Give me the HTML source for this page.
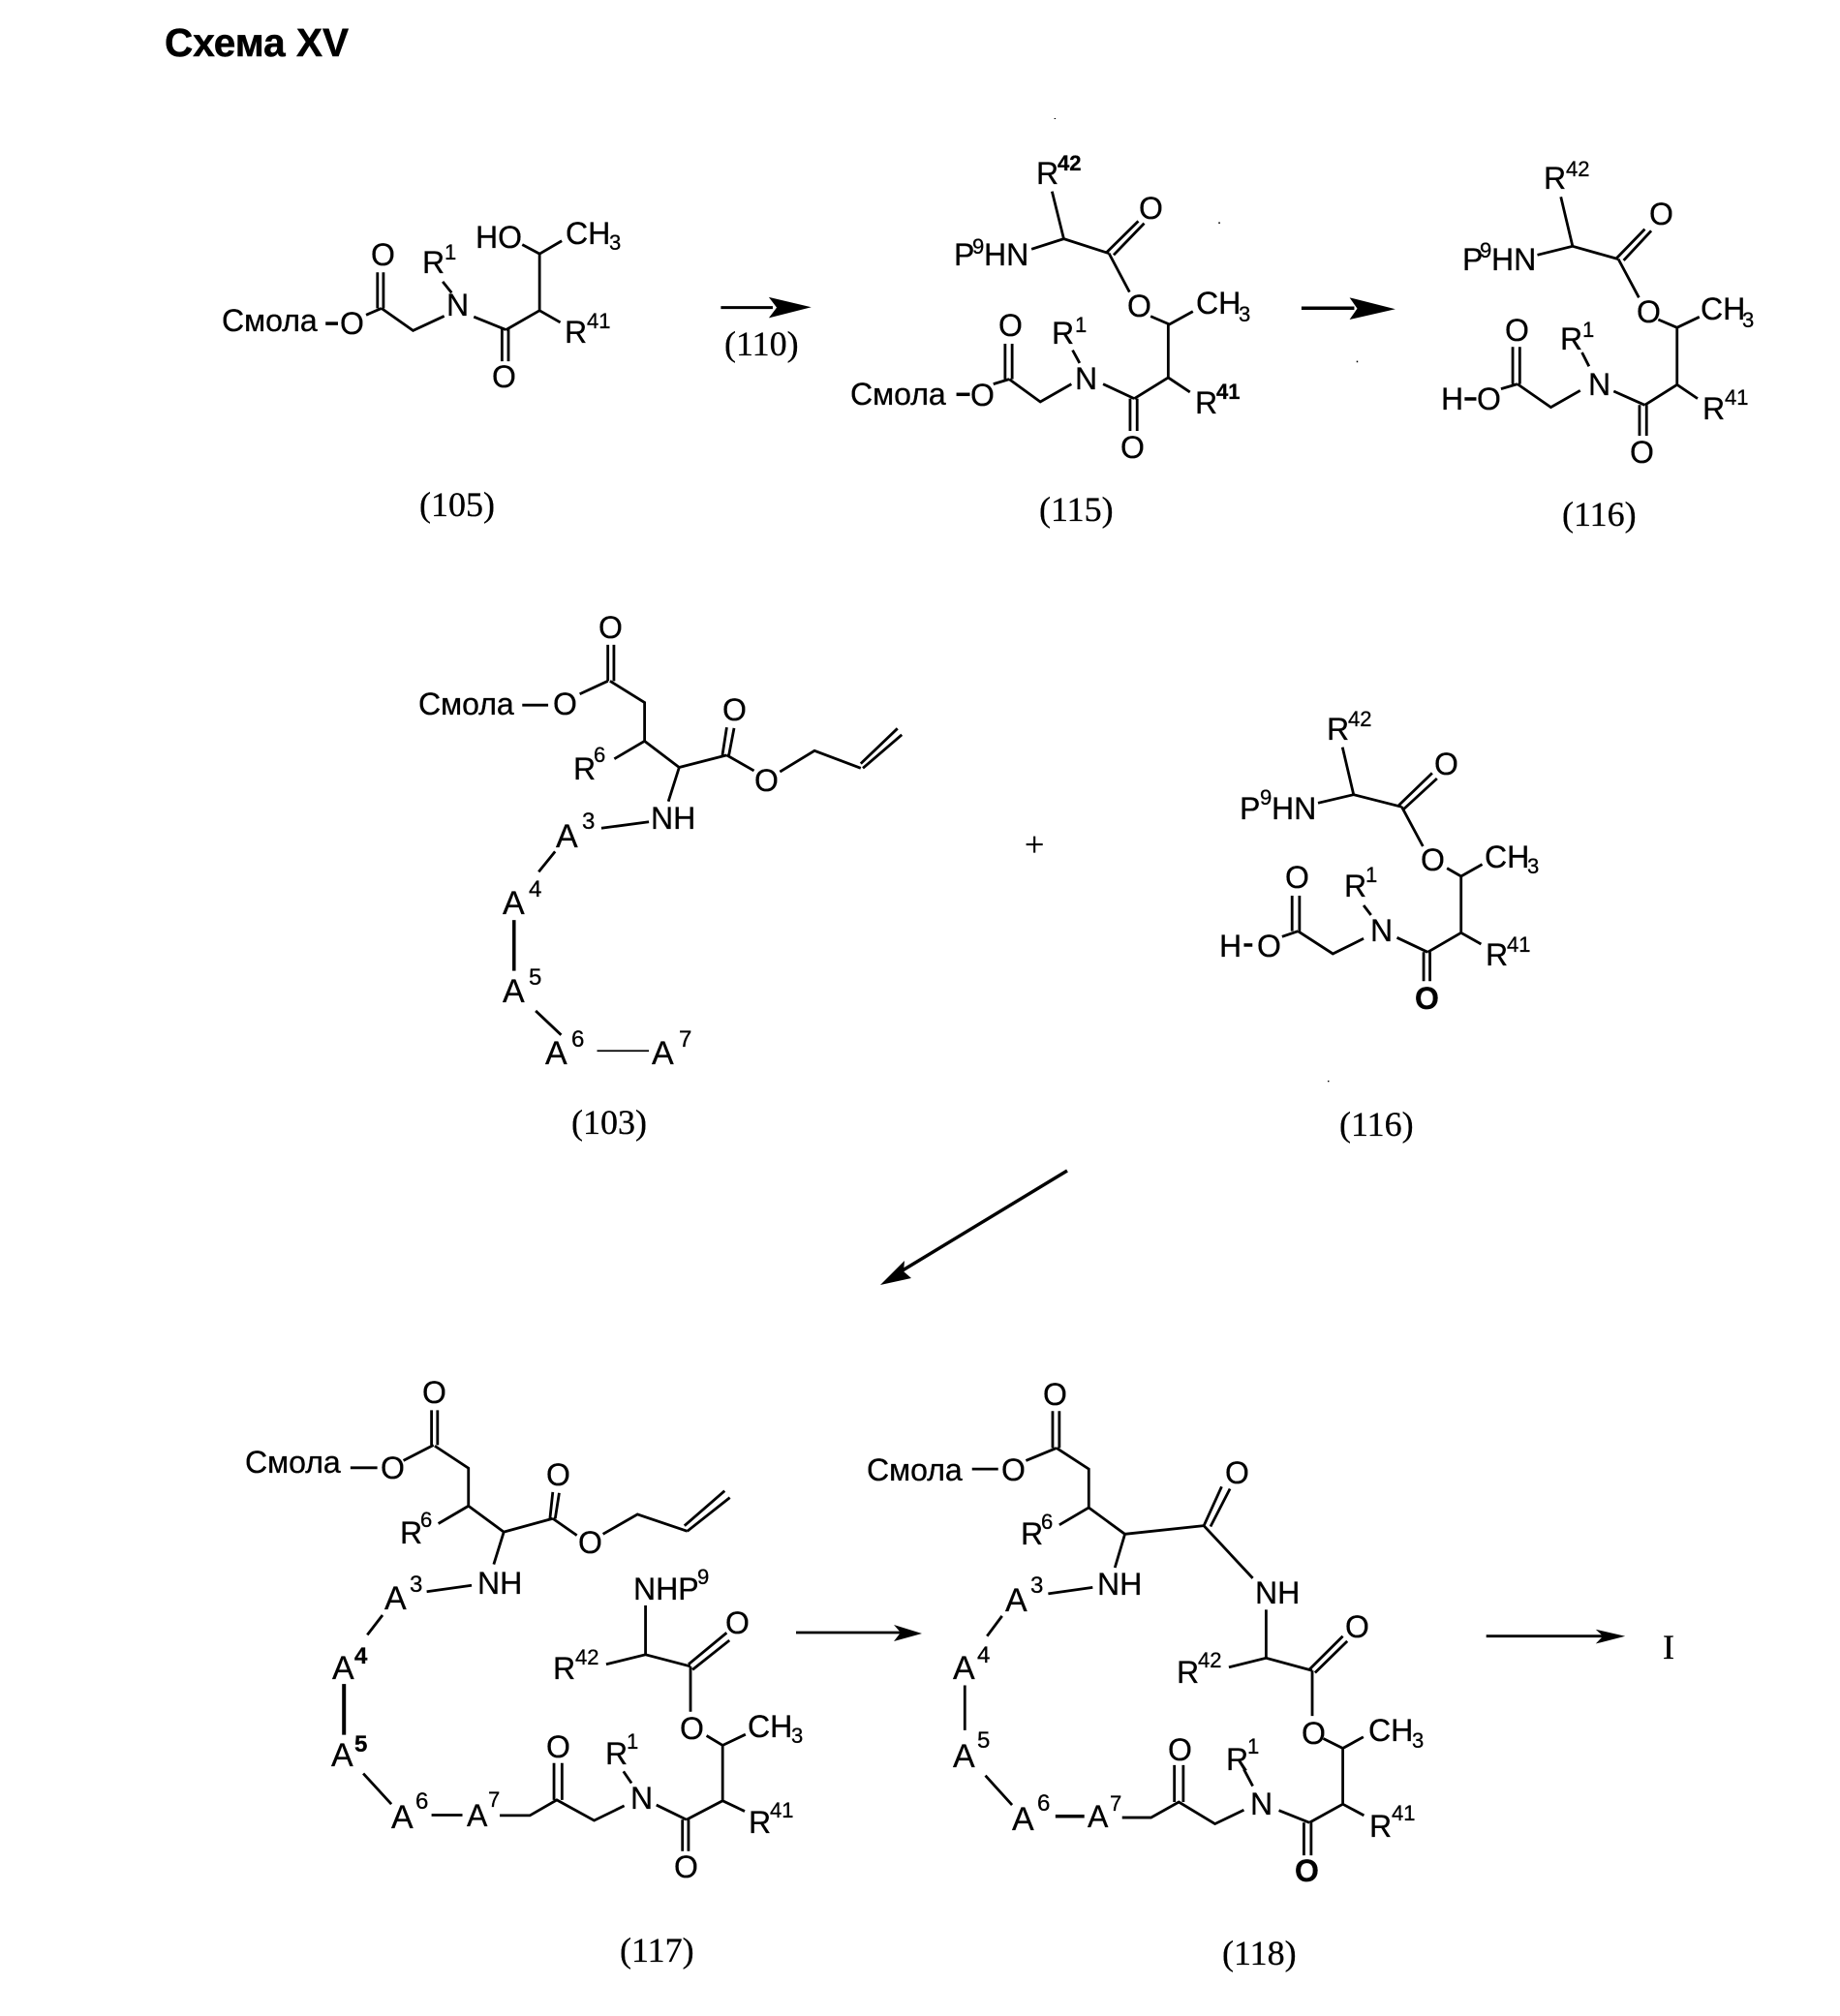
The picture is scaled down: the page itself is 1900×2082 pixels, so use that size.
<!DOCTYPE html>
<html lang="ru"><head><meta charset="utf-8"><title>Схема XV</title>
<style>
html,body{margin:0;padding:0;background:#fff}
svg{display:block}
text{font-family:"Liberation Sans",sans-serif;font-size:32px;fill:#000;stroke:#000;stroke-width:.3}
.s{font-size:22px}
.q{font-size:24px}
.a{font-size:34px}
.b{font-weight:bold}
.l{font-family:"Liberation Serif",serif;font-size:36px}
.t{font-weight:bold;font-size:40.5px;stroke-width:.5}
path{fill:none;stroke:#000;stroke-width:2.8;vector-effect:non-scaling-stroke}
path.h{fill:#000;stroke:none}
</style></head><body>
<svg xmlns="http://www.w3.org/2000/svg" width="1900" height="2082" viewBox="0 0 1900 2082">
<rect width="1900" height="2082" fill="#fff"/>
<text class="t" x="170" y="58">Схема XV</text>

<!-- 105 -->
<g transform="translate(150 0) scale(.5102 .3827)">
<path style="stroke-width:3.5" d="M365 873H390"/>
<path d="M447 850L478 832M470 832V735M482 832V735M478 832L542 892L605 853M602 760L620 790M665 855L730 890M722 885V975M735 885V975M730 890L798 838L840 870M798 838V685M763 660L798 685L843 650"/>
<path style="stroke-width:3" d="M1165 830H1270"/>
<path class="h" d="M1262 802L1348 829L1262 858L1278 830Z"/>
</g>
<text x="229" y="342">Смола</text><text x="351" y="345">O</text><text x="383" y="274">O</text>
<text x="436" y="282">R</text><text class="s" x="459" y="268">1</text>
<text x="461" y="326">N</text><text x="491" y="256">HO</text>
<text x="584" y="252">CH</text><text class="s" x="629" y="258">3</text>
<text x="583" y="354">R</text><text class="s" x="606" y="339">41</text>
<text x="508" y="400">O</text>
<text class="l" x="433" y="533">(105)</text><text class="l" x="748" y="367">(110)</text>

<!-- 115 / 116 -->
<g transform="translate(950 100) scale(.606 .3333)">
<path d="M225 293L245 440M190 472L245 440L322 485M318 482L372 385M330 490L382 392M322 485L357 605M393 680L425 705L465 665M423 705V870L460 915M423 870L365 935M358 935V1035M370 935V1035M312 890L365 935M258 890L205 945L152 875M145 875V765M157 875V765M125 890L152 875M260 785L272 825"/>
<path style="stroke-width:3.5" d="M62 922H85"/>
<path style="stroke-width:3.5" d="M650 655H740"/>
<path class="h" d="M732 622L810 658L732 690L745 656Z"/>
<path d="M1092 310L1112 463M1052 490L1112 463L1190 503M1187 500L1235 410M1199 507L1246 415M1190 503L1225 622M1258 690L1290 715L1328 682M1290 715V892L1325 935M1290 892L1235 955M1182 912L1235 955M1226 955V1050M1238 955V1050M1125 910L1075 962L1018 890M1010 890V775M1022 890V775M990 905L1018 890M1128 792L1140 835"/>
<path style="stroke-width:3.5" d="M928 936H948"/>
<path style="stroke-width:1.5" d="M230 66V69M510 388V393M745 818V823"/>
</g>
<text x="1070" y="190">R</text><text class="s b" x="1092" y="176">42</text>
<text x="1176" y="226">O</text><text x="985" y="274">P</text><text class="s" x="1004" y="262">9</text><text x="1016" y="274">HN</text>
<text x="1164" y="327">O</text><text x="1235" y="324">CH</text><text class="s" x="1279" y="332">3</text>
<text x="1031" y="347">O</text><text x="1086" y="355">R</text><text class="s" x="1110" y="343">1</text>
<text x="1110" y="402">N</text><text x="1234" y="427">R</text><text class="s b" x="1256" y="412">41</text>
<text x="1157" y="473">O</text><text x="1002" y="419">O</text><text x="878" y="418">Смола</text>
<text class="l" x="1073" y="538">(115)</text>

<text x="1594" y="195">R</text><text class="s" x="1617" y="182">42</text>
<text x="1703" y="232">O</text><text x="1510" y="279">P</text><text class="s" x="1528" y="266">9</text><text x="1540" y="279">HN</text>
<text x="1690" y="333">O</text><text x="1756" y="330">CH</text><text class="s" x="1799" y="338">3</text>
<text x="1554" y="352">O</text><text x="1611" y="361">R</text><text class="s" x="1634" y="348">1</text>
<text x="1640" y="408">N</text><text x="1758" y="433">R</text><text class="s" x="1781" y="418">41</text>
<text x="1683" y="478">O</text><text x="1488" y="423">H</text><text x="1525" y="423">O</text>
<text class="l" x="1613" y="543">(116)</text>

<!-- 103 -->
<g transform="translate(400 600) scale(.4464 .3827)">
<path d="M312 335H372M445 305L510 270M510 270V172M524 270V172M515 270L595 328V432L525 480M595 432L675 503L650 595M675 503L785 470M775 470L785 395M790 470L802 397M785 470L848 512M908 515L988 458L1095 505M1095 493L1180 398M1100 505L1190 415M495 667L605 650M388 730L350 785M343 1160L402 1225"/>
<path style="stroke-width:3.5" d="M293 915V1052"/>
<path style="stroke-width:1.8" d="M485 1268H605"/>
</g>
<text x="432" y="738">Смола</text><text x="571" y="738">O</text><text x="618" y="659">O</text>
<text x="592" y="805">R</text><text class="s" x="613" y="787">6</text>
<text x="746" y="744">O</text><text x="779" y="817">O</text><text x="672" y="856">NH</text>
<text class="a" x="574" y="875">A</text><text class="q" x="601" y="856">3</text>
<text class="a" x="519" y="944">A</text><text class="q" x="546" y="926">4</text>
<text class="a" x="519" y="1035">A</text><text class="q" x="546" y="1017">5</text>
<text class="a" x="563" y="1099">A</text><text class="q" x="590" y="1081">6</text>
<text class="a" x="673" y="1099">A</text><text class="q" x="701" y="1081">7</text>
<text class="l" x="590" y="1171">(103)</text>
<text class="l" x="1058" y="884">+</text>

<!-- 116 second -->
<g transform="translate(1100 700) scale(.3827 .3333)">
<path d="M748 215L778 362M682 388L778 362L908 400M900 395L990 295M912 408L1003 312M908 400L965 522M1030 590L1068 615L1125 578M1068 615V790L1122 825M1068 790L978 850M895 805L978 850M967 850V940M984 850V940M805 808L722 855L628 785M612 785V675M632 785V675M585 802L628 785M805 705L825 735"/>
<path style="stroke-width:3.5" d="M482 828H505"/>
<path style="stroke-width:1.5" d="M710 1248V1252"/>
</g>
<text x="1370" y="764">R</text><text class="s" x="1392" y="750">42</text>
<text x="1481" y="800">O</text><text x="1280" y="846">P</text><text class="s" x="1301" y="831">9</text><text x="1313" y="846">HN</text>
<text x="1467" y="899">O</text><text x="1533" y="896">CH</text><text class="s" x="1577" y="902">3</text>
<text x="1327" y="917">O</text><text x="1388" y="926">R</text><text class="s" x="1410" y="911">1</text>
<text x="1415" y="972">N</text><text x="1534" y="997">R</text><text class="s" x="1556" y="983">41</text>
<text class="b" x="1461" y="1042">O</text><text x="1259" y="988">H</text><text x="1298" y="988">O</text>
<text class="l" x="1383" y="1173">(116)</text>

<!-- diagonal arrow -->
<path style="stroke-width:3.4" d="M1102 1209L932 1312"/>
<path class="h" d="M909 1327L934 1302L933 1313L941 1320Z"/>

<!-- 117 -->
<g transform="translate(230 1400) scale(.4146 .4337)">
<path d="M318 267H385M450 250L525 213M520 213V130M535 213V130M528 215L612 268V358L537 400M612 358L700 420L675 497M700 420L822 388M815 388L822 325M828 388L838 327M822 388L882 428M947 425L1033 378L1157 418M1150 405L1250 322M1157 418L1263 338M508 562L620 547M398 618L360 665M350 995L420 1068M520 1094H597M690 1095H765L832 1058L925 1107L1000 1072M825 1058V970M845 1058V970M998 990L1018 1018M1080 1070L1155 1105M1145 1105V1180M1160 1105V1180M1155 1105L1245 1060L1300 1085M1245 1060V925M1205 905L1245 928L1302 902M1053 595V712M955 735L1053 712L1165 740M1160 735L1255 660M1170 748L1262 678M1165 740V848"/>
<path style="stroke-width:4" d="M302 782V903"/>
</g>
<text x="253" y="1521">Смола</text><text x="393" y="1527">O</text><text x="436" y="1449">O</text>
<text x="413" y="1594">R</text><text class="s" x="434" y="1577">6</text>
<text x="564" y="1534">O</text><text x="597" y="1604">O</text><text x="493" y="1646">NH</text>
<text class="a" x="397" y="1662">A</text><text class="q" x="423" y="1644">3</text>
<text class="a" x="343" y="1734">A</text><text class="q b" x="366" y="1718">4</text>
<text class="a" x="342" y="1824">A</text><text class="q b" x="366" y="1809">5</text>
<text class="a" x="404" y="1888">A</text><text class="q" x="429" y="1868">6</text>
<text x="482" y="1886">A</text><text class="s" x="504" y="1866">7</text>
<text x="564" y="1815">O</text><text x="625" y="1822">R</text><text class="s" x="647" y="1806">1</text>
<text x="651" y="1868">N</text><text x="773" y="1893">R</text><text class="s" x="795" y="1877">41</text>
<text x="696" y="1939">O</text><text x="702" y="1796">O</text>
<text x="772" y="1794">CH</text><text class="s" x="817" y="1800">3</text>
<text x="654" y="1652">NHP</text><text class="s" x="720" y="1636">9</text>
<text x="749" y="1687">O</text><text x="571" y="1734">R</text><text class="s" x="594" y="1719">42</text>
<text class="l" x="640" y="2026">(117)</text>

<path style="stroke-width:2.8" d="M822 1686H930"/>
<path class="h" d="M923 1678L952 1687L923 1695L930 1686Z"/>

<!-- 118 -->
<g transform="translate(870 1400) scale(.574 .4337)">
<path d="M233 270H280M330 250L385 220M378 220V132M390 220V132M385 220L443 270V362L390 403M443 362L508 425L490 505M508 425L650 405M650 405L682 312M662 407L697 317M650 405L738 530M370 567L450 552M287 620L260 668M220 785V892M257 1000L305 1070M503 1100H555L605 1063L670 1115L722 1082M597 1063V975M613 1063V975M722 985L738 1025M785 1083L840 1112M830 1112V1190M843 1112V1190M840 1112L900 1068L938 1095M900 1068V935M865 912L900 935L937 908M762 605V720M695 742L762 720L845 750M840 747L900 668M850 755L908 680M845 750V858"/>
<path style="stroke-width:3.5" d="M383 1097H435"/>
<path style="stroke-width:2.8" d="M1158 668H1375"/>
<path class="h" d="M1355 652L1408 668L1355 686L1368 668Z"/>
</g>
<text x="895" y="1529">Смола</text><text x="1034" y="1529">O</text><text x="1077" y="1451">O</text>
<text x="1265" y="1532">O</text><text x="1054" y="1595">R</text><text class="s" x="1075" y="1579">6</text>
<text x="1133" y="1647">NH</text><text x="1296" y="1656">NH</text>
<text class="a" x="1038" y="1664">A</text><text class="q" x="1064" y="1645">3</text>
<text class="a" x="984" y="1734">A</text><text class="q" x="1009" y="1717">4</text>
<text class="a" x="984" y="1825">A</text><text class="q" x="1009" y="1805">5</text>
<text class="a" x="1045" y="1890">A</text><text class="q" x="1071" y="1870">6</text>
<text x="1123" y="1887">A</text><text class="s" x="1146" y="1870">7</text>
<text x="1389" y="1691">O</text><text x="1215" y="1738">R</text><text class="s" x="1237" y="1722">42</text>
<text x="1344" y="1801">O</text><text x="1413" y="1798">CH</text><text class="s" x="1458" y="1805">3</text>
<text x="1206" y="1818">O</text><text x="1266" y="1828">R</text><text class="s" x="1288" y="1811">1</text>
<text x="1291" y="1874">N</text><text x="1414" y="1897">R</text><text class="s" x="1437" y="1880">41</text>
<text class="b" x="1337" y="1943">O</text>
<text class="l" x="1262" y="2029">(118)</text>
<text class="l" x="1717" y="1713">I</text>
</svg>
</body></html>
